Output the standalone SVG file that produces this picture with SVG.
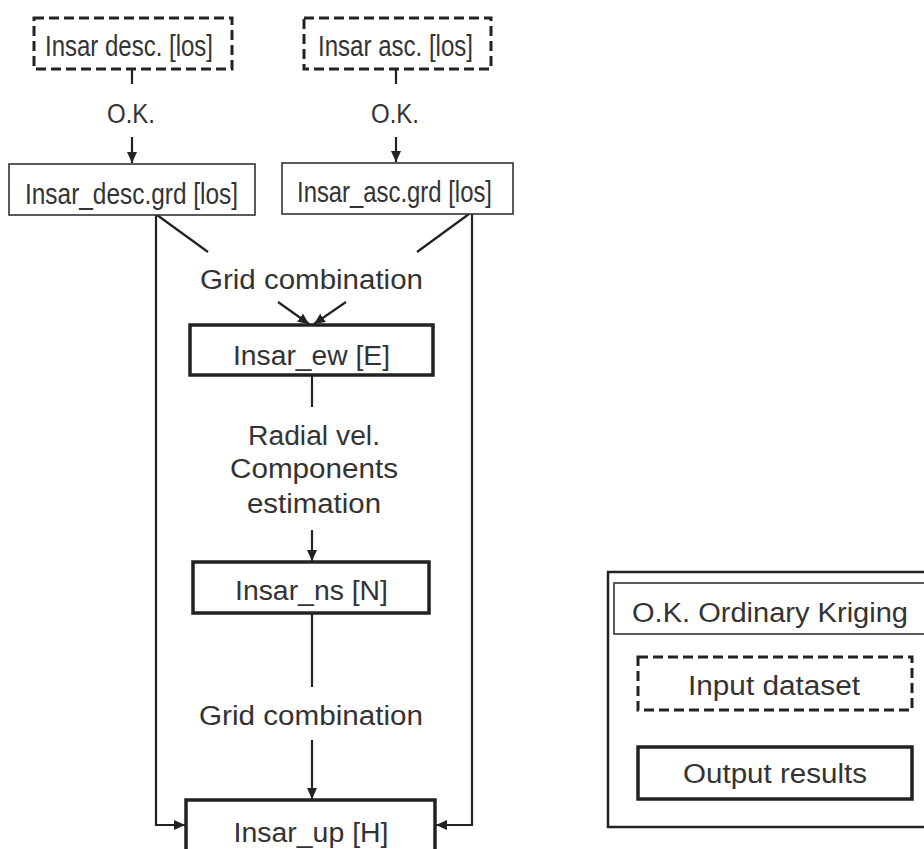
<svg xmlns="http://www.w3.org/2000/svg" width="924" height="849" viewBox="0 0 924 849">
<style>
  .t { font-family: "Liberation Sans", Arial, Helvetica, sans-serif; font-size: 27px; fill: #333; text-anchor: middle; }
  .big { font-size: 30px; }
  .thin { fill: #fff; stroke: #333; stroke-width: 1.6; }
  .dash { fill: #fff; stroke: #222; stroke-width: 3; stroke-dasharray: 10 5; }
  .bold { fill: #fff; stroke: #222; stroke-width: 3.5; }
  .c { fill: none; stroke: #222; stroke-width: 2.2; }
</style>
<defs>
  <marker id="ah" markerUnits="userSpaceOnUse" markerWidth="11" markerHeight="10" refX="11" refY="5" orient="auto">
    <path d="M0,0 L11,5 L0,10 z" fill="#222"/>
  </marker>
</defs>
<rect width="924" height="849" fill="#fff"/>

<g id="connectors">
  <line class="c" x1="132" y1="70" x2="132" y2="84"/>
  <line class="c" x1="132" y1="137" x2="132" y2="163" marker-end="url(#ah)"/>
  <line class="c" x1="396" y1="69" x2="396" y2="84"/>
  <line class="c" x1="396" y1="137" x2="396" y2="162" marker-end="url(#ah)"/>
  <line class="c" x1="157" y1="215" x2="208" y2="252"/>
  <line class="c" x1="469" y1="214" x2="417" y2="252"/>
  <line class="c" x1="278" y1="302" x2="309" y2="324" marker-end="url(#ah)"/>
  <line class="c" x1="346" y1="302" x2="314" y2="324" marker-end="url(#ah)"/>
  <line class="c" x1="312" y1="375" x2="312" y2="407"/>
  <line class="c" x1="312" y1="530" x2="312" y2="561" marker-end="url(#ah)"/>
  <line class="c" x1="312" y1="613" x2="312" y2="687"/>
  <line class="c" x1="312" y1="740" x2="312" y2="799" marker-end="url(#ah)"/>
  <path class="c" d="M156,215 V825 H185" marker-end="url(#ah)"/>
  <path class="c" d="M472,214 V825 H436" marker-end="url(#ah)"/>
  <text class="t" x="131" y="123" textLength="48" lengthAdjust="spacingAndGlyphs">O.K.</text>
  <text class="t" x="395" y="123" textLength="48" lengthAdjust="spacingAndGlyphs">O.K.</text>
  <text class="t" x="311.5" y="289" textLength="223" lengthAdjust="spacingAndGlyphs">Grid combination</text>
  <text class="t" x="314" y="445" textLength="132" lengthAdjust="spacingAndGlyphs">Radial vel.</text>
  <text class="t" x="314" y="478" textLength="168" lengthAdjust="spacingAndGlyphs">Components</text>
  <text class="t" x="314" y="513" textLength="134" lengthAdjust="spacingAndGlyphs">estimation</text>
  <text class="t" x="311" y="725" textLength="224" lengthAdjust="spacingAndGlyphs">Grid combination</text>
</g>

<g id="insar-desc">
  <rect class="dash" x="34" y="18" width="198" height="51"/>
  <text class="t big" x="129" y="56" textLength="168" lengthAdjust="spacingAndGlyphs">Insar desc. [los]</text>
</g>
<g id="insar-asc">
  <rect class="dash" x="304" y="18" width="187" height="51"/>
  <text class="t big" x="395.5" y="56" textLength="155" lengthAdjust="spacingAndGlyphs">Insar asc. [los]</text>
</g>
<g id="insar-desc-grd">
  <rect class="thin" x="9" y="164" width="246" height="51"/>
  <text class="t big" x="131.5" y="204" textLength="213" lengthAdjust="spacingAndGlyphs">Insar_desc.grd [los]</text>
</g>
<g id="insar-asc-grd">
  <rect class="thin" x="282" y="163" width="231" height="51"/>
  <text class="t big" x="394.5" y="202" textLength="195" lengthAdjust="spacingAndGlyphs">Insar_asc.grd [los]</text>
</g>
<g id="insar-ew">
  <rect class="bold" x="190" y="325" width="243" height="50"/>
  <text class="t" x="311.5" y="365" textLength="157" lengthAdjust="spacingAndGlyphs">Insar_ew [E]</text>
</g>
<g id="insar-ns">
  <rect class="bold" x="193" y="562" width="236" height="51"/>
  <text class="t" x="311.5" y="600" textLength="153" lengthAdjust="spacingAndGlyphs">Insar_ns [N]</text>
</g>
<g id="insar-up">
  <rect class="bold" x="186" y="800" width="249" height="60"/>
  <text class="t" x="311" y="842" textLength="155" lengthAdjust="spacingAndGlyphs">Insar_up [H]</text>
</g>

<g id="legend">
  <rect fill="#fff" stroke="#222" stroke-width="2.5" x="608" y="572" width="330" height="255"/>
  <g id="legend-ok">
    <rect class="thin" x="614" y="583" width="320" height="51"/>
    <text class="t" x="770" y="622" textLength="276" lengthAdjust="spacingAndGlyphs">O.K. Ordinary Kriging</text>
  </g>
  <g id="legend-input">
    <rect class="dash" x="638" y="657" width="274" height="53"/>
    <text class="t" x="774" y="695" textLength="172" lengthAdjust="spacingAndGlyphs">Input dataset</text>
  </g>
  <g id="legend-output">
    <rect class="bold" x="638" y="747" width="274" height="52"/>
    <text class="t" x="775" y="783" textLength="184" lengthAdjust="spacingAndGlyphs">Output results</text>
  </g>
</g>
</svg>
